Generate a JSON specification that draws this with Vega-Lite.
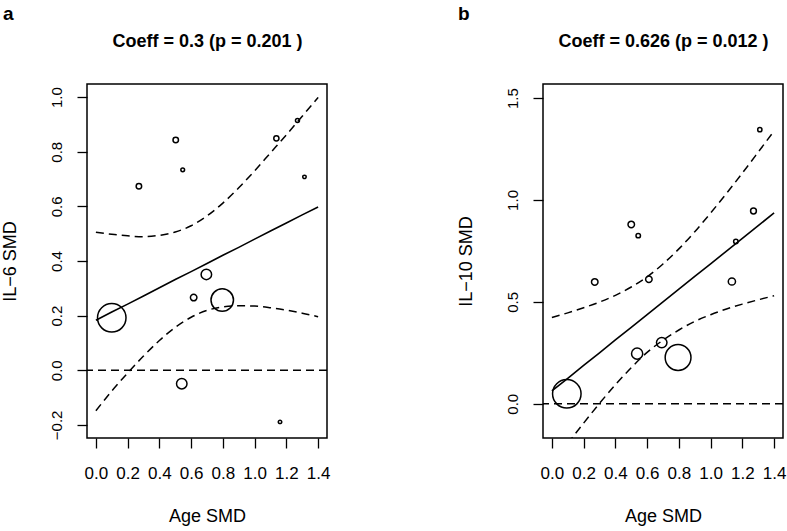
{
  "$schema": "https://vega.github.io/schema/vega-lite/v6.json",
  "padding": {"left": 0, "top": 4, "right": 0, "bottom": 0},
  "spacing": 125,
  "datasets": {
    "zero": [{"y0": 0}],
    "pointsA": [
      {"x": 0.100, "y": 0.192, "weight": 812},
      {"x": 0.503, "y": 0.843, "weight": 30},
      {"x": 0.271, "y": 0.674, "weight": 30},
      {"x": 0.547, "y": 0.734, "weight": 14},
      {"x": 1.137, "y": 0.849, "weight": 27},
      {"x": 1.270, "y": 0.914, "weight": 16},
      {"x": 1.314, "y": 0.708, "weight": 12},
      {"x": 0.696, "y": 0.351, "weight": 110},
      {"x": 0.616, "y": 0.266, "weight": 42},
      {"x": 0.796, "y": 0.257, "weight": 506},
      {"x": 0.541, "y": -0.049, "weight": 110},
      {"x": 1.160, "y": -0.189, "weight": 12}
    ],
    "curveA": [
      {"x": 0.0, "fit": 0.183, "lo": -0.148, "hi": 0.505},
      {"x": 0.1, "fit": 0.213, "lo": -0.076, "hi": 0.498},
      {"x": 0.2, "fit": 0.242, "lo": -0.010, "hi": 0.492},
      {"x": 0.3, "fit": 0.272, "lo": 0.052, "hi": 0.489},
      {"x": 0.4, "fit": 0.302, "lo": 0.109, "hi": 0.494},
      {"x": 0.5, "fit": 0.332, "lo": 0.157, "hi": 0.506},
      {"x": 0.6, "fit": 0.361, "lo": 0.194, "hi": 0.529},
      {"x": 0.7, "fit": 0.391, "lo": 0.219, "hi": 0.565},
      {"x": 0.8, "fit": 0.421, "lo": 0.232, "hi": 0.612},
      {"x": 0.9, "fit": 0.450, "lo": 0.236, "hi": 0.668},
      {"x": 1.0, "fit": 0.480, "lo": 0.235, "hi": 0.730},
      {"x": 1.1, "fit": 0.510, "lo": 0.229, "hi": 0.796},
      {"x": 1.2, "fit": 0.539, "lo": 0.220, "hi": 0.862},
      {"x": 1.3, "fit": 0.569, "lo": 0.209, "hi": 0.930},
      {"x": 1.4, "fit": 0.598, "lo": 0.196, "hi": 0.999}
    ],
    "pointsB": [
      {"x": 0.094, "y": 0.049, "weight": 812},
      {"x": 0.270, "y": 0.598, "weight": 42},
      {"x": 0.500, "y": 0.880, "weight": 42},
      {"x": 0.544, "y": 0.825, "weight": 20},
      {"x": 0.611, "y": 0.611, "weight": 42},
      {"x": 0.692, "y": 0.300, "weight": 110},
      {"x": 0.537, "y": 0.246, "weight": 125},
      {"x": 0.795, "y": 0.227, "weight": 666},
      {"x": 1.134, "y": 0.600, "weight": 52},
      {"x": 1.159, "y": 0.796, "weight": 20},
      {"x": 1.270, "y": 0.946, "weight": 34},
      {"x": 1.310, "y": 1.345, "weight": 18}
    ],
    "curveB": [
      {"x": 0.0, "fit": 0.063, "lo": -0.297, "hi": 0.423},
      {"x": 0.1, "fit": 0.125, "lo": -0.195, "hi": 0.446},
      {"x": 0.2, "fit": 0.188, "lo": -0.095, "hi": 0.471},
      {"x": 0.3, "fit": 0.250, "lo": 0.002, "hi": 0.499},
      {"x": 0.4, "fit": 0.313, "lo": 0.093, "hi": 0.532},
      {"x": 0.5, "fit": 0.375, "lo": 0.177, "hi": 0.573},
      {"x": 0.6, "fit": 0.437, "lo": 0.252, "hi": 0.623},
      {"x": 0.7, "fit": 0.500, "lo": 0.312, "hi": 0.686},
      {"x": 0.8, "fit": 0.562, "lo": 0.362, "hi": 0.760},
      {"x": 0.9, "fit": 0.625, "lo": 0.404, "hi": 0.844},
      {"x": 1.0, "fit": 0.687, "lo": 0.437, "hi": 0.936},
      {"x": 1.1, "fit": 0.749, "lo": 0.465, "hi": 1.032},
      {"x": 1.2, "fit": 0.812, "lo": 0.489, "hi": 1.132},
      {"x": 1.3, "fit": 0.874, "lo": 0.510, "hi": 1.235},
      {"x": 1.4, "fit": 0.937, "lo": 0.530, "hi": 1.339}
    ]
  },
  "hconcat": [
    {
      "width": 240,
      "height": 354,
      "title": {"text": "a", "anchor": "start", "frame": "group", "dx": -84, "fontSize": 19, "fontWeight": "bold", "offset": 8},
      "resolve": {"axis": {"x": "independent"}},
      "layer": [
        {
          "data": {"name": "zero"},
          "mark": {"type": "rule", "strokeDash": [8, 5], "strokeWidth": 1.5, "color": "black"},
          "encoding": {"y": {"field": "y0", "type": "quantitative", "scale": {"domain": [-0.248, 1.048], "nice": false, "zero": false},
            "axis": {"title": "IL−6 SMD", "values": [-0.2, 0, 0.2, 0.4, 0.6, 0.8, 1.0], "format": ".1f", "labelAngle": -90, "labelAlign": "center", "labelBaseline": "bottom", "labelFontSize": 15, "labelPadding": 13, "titlePadding": 30}}}
        },
        {
          "data": {"name": "curveA"},
          "mark": {"type": "line", "strokeDash": [8, 5], "strokeWidth": 1.5, "color": "black", "interpolate": "monotone", "clip": true},
          "encoding": {
            "x": {"field": "x", "type": "quantitative", "scale": {"domain": [-0.056, 1.456], "nice": false, "zero": false}, "axis": null},
            "y": {"field": "lo", "type": "quantitative"}
          }
        },
        {
          "data": {"name": "curveA"},
          "mark": {"type": "line", "strokeDash": [8, 5], "strokeWidth": 1.5, "color": "black", "interpolate": "monotone", "clip": true},
          "encoding": {
            "x": {"field": "x", "type": "quantitative", "axis": null},
            "y": {"field": "hi", "type": "quantitative"}
          }
        },
        {
          "data": {"name": "curveA"},
          "mark": {"type": "line", "strokeWidth": 1.6, "color": "black", "clip": true},
          "encoding": {
            "x": {"field": "x", "type": "quantitative", "axis": {"orient": "top", "title": "Coeff = 0.3 (p = 0.201 )", "labels": false, "ticks": false, "domain": false, "tickSize": 0, "labelPadding": 0, "titleFontSize": 18, "titleFontWeight": "bold", "titlePadding": 34}},
            "y": {"field": "fit", "type": "quantitative"}
          }
        },
        {
          "data": {"name": "pointsA"},
          "mark": {"type": "point", "shape": "circle", "filled": false, "stroke": "black", "strokeWidth": 1.5, "opacity": 1},
          "encoding": {
            "x": {"field": "x", "type": "quantitative", "axis": {"orient": "bottom", "title": "Age SMD", "values": [0, 0.2, 0.4, 0.6, 0.8, 1.0, 1.2, 1.4], "format": ".1f"}},
            "y": {"field": "y", "type": "quantitative"},
            "size": {"field": "weight", "type": "quantitative", "scale": {"domain": [0, 812], "range": [0, 812]}, "legend": null}
          }
        }
      ]
    },
    {
      "width": 240,
      "height": 354,
      "title": {"text": "b", "anchor": "start", "frame": "group", "dx": -85, "fontSize": 19, "fontWeight": "bold", "offset": 8},
      "resolve": {"axis": {"x": "independent"}},
      "layer": [
        {
          "data": {"name": "zero"},
          "mark": {"type": "rule", "strokeDash": [8, 5], "strokeWidth": 1.5, "color": "black"},
          "encoding": {"y": {"field": "y0", "type": "quantitative", "scale": {"domain": [-0.168, 1.569], "nice": false, "zero": false},
            "axis": {"title": "IL−10 SMD", "values": [0, 0.5, 1.0, 1.5], "format": ".1f", "labelAngle": -90, "labelAlign": "center", "labelBaseline": "bottom", "labelFontSize": 15, "labelPadding": 13, "titlePadding": 30}}}
        },
        {
          "data": {"name": "curveB"},
          "mark": {"type": "line", "strokeDash": [8, 5], "strokeWidth": 1.5, "color": "black", "interpolate": "monotone", "clip": true},
          "encoding": {
            "x": {"field": "x", "type": "quantitative", "scale": {"domain": [-0.056, 1.456], "nice": false, "zero": false}, "axis": null},
            "y": {"field": "lo", "type": "quantitative"}
          }
        },
        {
          "data": {"name": "curveB"},
          "mark": {"type": "line", "strokeDash": [8, 5], "strokeWidth": 1.5, "color": "black", "interpolate": "monotone", "clip": true},
          "encoding": {
            "x": {"field": "x", "type": "quantitative", "axis": null},
            "y": {"field": "hi", "type": "quantitative"}
          }
        },
        {
          "data": {"name": "curveB"},
          "mark": {"type": "line", "strokeWidth": 1.6, "color": "black", "clip": true},
          "encoding": {
            "x": {"field": "x", "type": "quantitative", "axis": {"orient": "top", "title": "Coeff = 0.626 (p = 0.012 )", "labels": false, "ticks": false, "domain": false, "tickSize": 0, "labelPadding": 0, "titleFontSize": 18, "titleFontWeight": "bold", "titlePadding": 34}},
            "y": {"field": "fit", "type": "quantitative"}
          }
        },
        {
          "data": {"name": "pointsB"},
          "mark": {"type": "point", "shape": "circle", "filled": false, "stroke": "black", "strokeWidth": 1.5, "opacity": 1},
          "encoding": {
            "x": {"field": "x", "type": "quantitative", "axis": {"orient": "bottom", "title": "Age SMD", "values": [0, 0.2, 0.4, 0.6, 0.8, 1.0, 1.2, 1.4], "format": ".1f"}},
            "y": {"field": "y", "type": "quantitative"},
            "size": {"field": "weight", "type": "quantitative", "scale": {"domain": [0, 812], "range": [0, 812]}, "legend": null}
          }
        }
      ]
    }
  ],
  "config": {
    "font": "Liberation Sans",
    "background": "white",
    "view": {"stroke": "black", "strokeWidth": 1.5},
    "title": {"color": "black", "font": "Liberation Sans"},
    "axis": {
      "domain": false,
      "grid": false,
      "tickColor": "black",
      "tickSize": 10,
      "tickWidth": 1.3,
      "labelColor": "black",
      "labelFont": "Liberation Sans",
      "labelFontSize": 17,
      "labelOverlap": false,
      "labelFlush": false,
      "titleColor": "black",
      "titleFont": "Liberation Sans",
      "titleFontSize": 18,
      "titleFontWeight": "normal"
    },
    "axisX": {"labelPadding": 17, "titlePadding": 26}
  }
}
